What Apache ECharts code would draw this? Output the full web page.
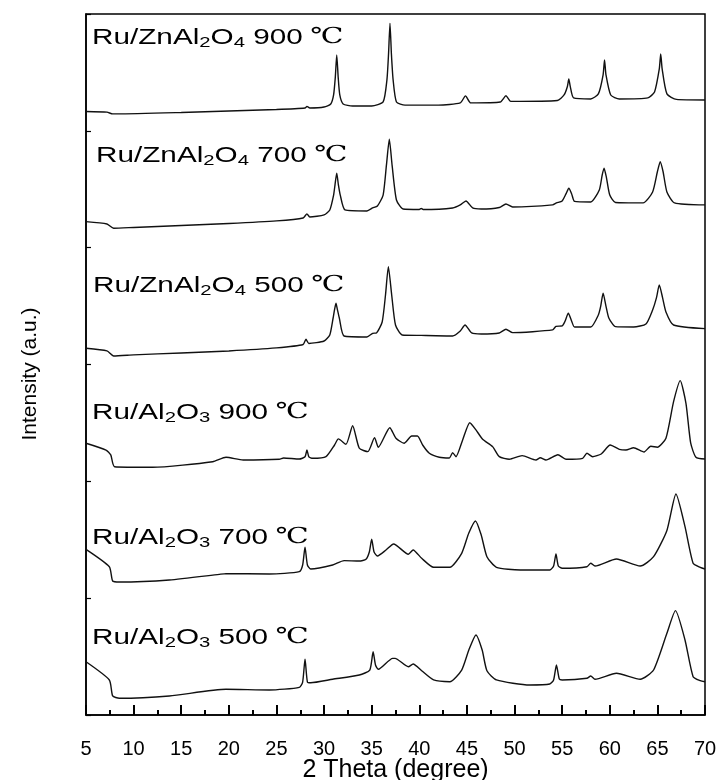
<!DOCTYPE html>
<html>
<head>
<meta charset="utf-8">
<script src="https://cdn.jsdelivr.net/npm/echarts@6/dist/echarts.min.js"></script>
<style>
  html, body { margin: 0; padding: 0; background: #fff; }
  #chart { width: 721px; height: 780px; }
</style>
</head>
<body>
<div id="chart"></div>
<script>
// 2-theta tick marks along the bottom axis (degrees)
const X_TICKS = [5, 10, 15, 20, 25, 30, 35, 40, 45, 50, 55, 60, 65, 70];
// stacked intensity scale (a.u.), ticks only, no labels
const Y_TICKS = [0, 100, 200, 300, 400, 500, 600];

// XRD patterns as [2theta, intensity] pairs, already stacked
const zn900 = [
  [5.0,516.6],[7.2,516.0],[7.8,514.5],[8.3,514.5],[15,515.7],[20,517.0],[25,518.3],[28.0,519.6],[28.2,520.9],[28.5,519.6],
  [30.0,520.4],[30.7,523.0],[31.0,530.7],[31.18,546],[31.33,565.0],[31.48,546],[31.65,530.7],[32.0,523.0],[33.0,521.3],
  [35.0,521.3],[36.2,524.7],[36.6,543.6],[36.77,566],[36.92,592.0],[37.07,566],[37.25,543.6],[37.6,524.7],[38.5,522.0],
  [42.0,522.0],[44.3,523.9],[44.85,529.9],[45.4,523.9],[48.5,524.7],[49.1,530.0],[49.6,525.2],[54.5,526.0],[55.2,530.7],
  [55.55,538],[55.7,544.4],[55.85,538],[56.2,528.2],[58.0,527.3],[58.8,531.6],[59.3,548],[59.45,560.7],[59.6,548],
  [60.1,530.7],[61.0,527.3],[64.0,528.2],[64.7,533.3],[65.2,553],[65.35,565.8],[65.5,553],[66.0,531.6],[67.0,526.9],[70.0,526.4]
];
const zn700 = [
  [5.0,422.3],[7.2,420.3],[7.9,416.6],[10,417.3],[15,419.0],[20,420.7],[25,422.9],[27.8,425.4],[28.2,428.9],[28.5,426.3],
  [30.0,428.0],[30.6,432.3],[31.0,445.0],[31.15,454],[31.33,463.7],[31.5,454],[31.7,445.0],[32.2,432.3],[34.5,431.4],
  [35.1,434.0],[35.6,435.7],[36.2,445.0],[36.55,470.8],[36.85,492.8],[37.15,470],[37.6,440.8],[38.3,433.1],[40.0,432.7],
  [40.2,433.6],[40.4,432.7],[43.5,434.0],[44.3,436.6],[44.9,440.0],[45.6,434.0],[46.5,433.1],[48.4,434.4],[49.1,437.4],
  [49.8,434.8],[54.0,436.6],[54.4,438.3],[55.0,440.0],[55.4,446],[55.7,450.8],[56.0,446],[56.3,439.6],[58.0,439.1],
  [58.9,449.4],[59.2,462],[59.4,468.0],[59.65,460],[60.0,445.0],[60.6,438.7],[63.5,438.3],[64.5,447.7],[65.0,465],
  [65.3,473.6],[65.6,465],[66.0,447.7],[66.8,438.3],[70.0,436.6]
];
const zn500 = [
  [5.0,313.9],[7.2,311.6],[7.9,307.3],[10,308.2],[15,309.9],[20,311.6],[25,314.2],[27.8,317.1],[28.1,321.6],[28.4,318.0],
  [30.0,320.1],[30.6,325.3],[30.95,339.8],[31.1,347],[31.25,352.4],[31.4,347],[31.6,339.8],[32.1,324.4],[34.5,323.6],
  [35.1,326.7],[35.5,327.0],[36.1,336.4],[36.45,359.5],[36.75,383.7],[37.1,359.5],[37.5,333.8],[38.2,325.3],[40.2,324.9],
  [43.5,324.4],[44.3,328.7],[44.8,333.8],[45.5,327.0],[46.5,326.1],[48.4,327.0],[49.1,330.2],[49.8,327.3],[54.0,329.6],
  [54.35,332.7],[55.0,333.0],[55.3,337],[55.65,343.9],[56.0,337],[56.3,332.1],[58.0,332.1],[58.8,342.4],[59.05,350],
  [59.3,361.0],[59.6,350],[59.9,339.8],[60.6,332.4],[62.5,332.1],[63.8,334.7],[64.5,346.7],[64.9,357],[65.2,368.1],
  [65.55,357],[65.9,345.0],[66.7,333.8],[70.0,330.7]
];
const al900 = [
  [5.0,232.6],[7.1,226.8],[7.6,222.6],[8.0,212.5],[12.0,212.0],[18.3,216.8],[19.7,220.6],[21.5,218.3],[25.3,218.9],
  [25.75,220.0],[27.4,219.1],[28.0,221],[28.2,226.8],[28.4,221],[28.8,219.7],[30.2,221.1],[31.1,231.1],[31.5,236.3],
  [32.3,231.7],[33.0,247.6],[33.7,228.3],[34.6,225.4],[35.3,237.4],[35.7,229.2],[36.9,245.9],[37.55,236.9],[38.4,232.6],
  [39.2,238.8],[39.8,238.8],[40.35,231.1],[41.05,224.0],[42.1,220.6],[43.15,220.0],[43.5,224.5],[43.85,221.1],[44.55,235.4],
  [45.3,250.2],[45.95,244.0],[46.65,236.0],[47.7,229.7],[48.4,221.1],[49.45,218.9],[50.8,222.0],[52.25,218.3],[52.7,220.2],
  [53.3,218.3],[54.55,222.8],[55.4,218.9],[57.15,219.7],[57.6,224.0],[58.2,221.1],[59.1,223.4],[60.05,231.1],[61.0,227.4],
  [61.7,226.8],[62.5,228.8],[63.6,225.1],[64.3,230.0],[65.0,229.2],[65.9,236.9],[66.7,268.2],[67.4,286.2],[68.0,266.8],
  [68.5,232.6],[69.05,220.6],[70.0,219.1]
];
const al700 = [
  [5.0,141.8],[7.45,126.9],[7.8,114.7],[8.5,113.8],[13.75,115.6],[19.0,120.4],[19.7,121.0],[24.25,120.7],[27.4,122.7],
  [27.75,128.4],[28.0,143.6],[28.25,128.4],[28.6,125.0],[30.9,128.4],[32.1,132.1],[33.7,131.8],[34.4,133.3],[34.75,139.5],
  [35.0,150.4],[35.25,139.5],[35.6,136.1],[36.5,141.2],[37.3,146.4],[38.85,137.6],[39.35,141.2],[40.25,134.1],[41.5,126.4],
  [43.2,126.4],[44.45,138.4],[45.2,155.8],[45.9,166.1],[46.5,154.1],[47.1,135.5],[48.1,126.4],[50.6,124.1],[53.7,124.1],
  [54.1,127.5],[54.35,137.8],[54.6,127.5],[55.0,125.6],[57.6,126.9],[58.0,129.9],[58.45,127.5],[60.7,133.5],[63.2,127.5],
  [64.6,135.5],[66.0,158.0],[66.95,189.2],[67.9,161.2],[68.75,129.9],[69.5,126.4],[70.0,125.0]
];
const al500 = [
  [5.0,45.6],[7.45,30.0],[7.8,16.3],[8.5,14.3],[13.75,16.3],[19.7,22.0],[24.25,21.4],[27.4,23.7],[27.75,28.2],[28.0,47.7],
  [28.25,28.2],[28.6,27.6],[30.9,30.6],[33.7,34.2],[34.8,38.5],[35.15,54.2],[35.4,42.8],[35.7,39.1],[37.2,48.5],[37.45,48.5],
  [38.85,41.3],[39.35,43.7],[40.25,37.9],[41.5,30.0],[43.2,28.5],[44.45,38.5],[45.2,55.6],[45.95,68.5],[46.6,55.6],
  [47.1,37.9],[48.1,30.0],[51.6,25.7],[53.7,26.5],[54.1,30.0],[54.4,42.8],[54.7,30.8],[55.0,30.0],[57.6,31.4],[58.0,33.4],
  [58.45,30.6],[60.7,35.7],[63.2,30.6],[64.6,38.5],[66.0,69.9],[66.9,89.3],[67.9,64.2],[68.75,32.8],[69.5,29.4],[70.0,28.5]
];

const patterns = [zn900, zn700, zn500, al900, al700, al500];

// sample captions with sub-scripted formulas (rich text)
const captions = [
  '{a|Ru/ZnAl}{s|2}{a|O}{s|4}{a| 900}{c| ℃}',
  '{a|Ru/ZnAl}{s|2}{a|O}{s|4}{a| 700}{c| ℃}',
  '{a|Ru/ZnAl}{s|2}{a|O}{s|4}{a| 500}{c| ℃}',
  '{a|Ru/Al}{s|2}{a|O}{s|3}{a| 900}{c| ℃}',
  '{a|Ru/Al}{s|2}{a|O}{s|3}{a| 700}{c| ℃}',
  '{a|Ru/Al}{s|2}{a|O}{s|3}{a| 500}{c| ℃}'
];
const captionAt = [[92, 24.7], [96, 142.7], [93, 272.7], [92, 399.7], [92, 524.7], [92, 624.7]];

const FONT = "'Liberation Sans', Arial, 'Noto Sans CJK SC', sans-serif";
const SERIF = "'Liberation Serif', 'DejaVu Serif', 'Noto Sans CJK SC', serif";
const richStyle = {
  a: { fontSize: 22, lineHeight: 26, fontFamily: FONT, fill: '#000' },
  s: { fontSize: 15, lineHeight: 8, verticalAlign: 'bottom', fontFamily: FONT, fill: '#000' },
  c: { fontSize: 22, lineHeight: 26, fontFamily: SERIF, fill: '#000' }
};

const chart = echarts.init(document.getElementById('chart'));

chart.setOption({
  animation: false,
  backgroundColor: '#fff',
  grid: {
    left: 86, right: 16, top: 14, bottom: 65,
    outerBoundsMode: 'none',
    containLabel: false,
    show: true, borderColor: '#000', borderWidth: 1.5, backgroundColor: 'transparent'
  },
  xAxis: {
    type: 'value',
    min: X_TICKS[0],
    max: X_TICKS[X_TICKS.length - 1],
    interval: X_TICKS[1] - X_TICKS[0],
    name: '2 Theta (degree)',
    nameLocation: 'middle',
    nameMoveOverlap: false,
    nameGap: 43,
    nameTextStyle: { fontSize: 25, fontFamily: FONT, color: '#000' },
    axisLine: { show: true, onZero: false, lineStyle: { color: '#000', width: 1.5 } },
    axisTick: { show: true, inside: true, length: 10, lineStyle: { color: '#000', width: 2, opacity: 1 } },
    minorTick: { show: true, splitNumber: 2, length: 5, lineStyle: { color: '#000', width: 2, opacity: 1 } },
    axisLabel: { fontSize: 20, fontFamily: FONT, color: '#000', margin: 24 },
    splitLine: { show: false },
    minorSplitLine: { show: false },
    zlevel: 1
  },
  yAxis: {
    type: 'value',
    min: Y_TICKS[0],
    max: Y_TICKS[Y_TICKS.length - 1],
    interval: Y_TICKS[1] - Y_TICKS[0],
    name: 'Intensity (a.u.)',
    nameLocation: 'middle',
    nameMoveOverlap: false,
    nameGap: 45,
    nameTextStyle: { fontSize: 21, fontFamily: FONT, color: '#000', padding: [0, 19, 0, 0] },
    axisLine: { show: true, onZero: false, lineStyle: { color: '#000', width: 1.5 } },
    axisTick: { show: true, inside: true, length: 5, lineStyle: { color: '#000', width: 1.2 } },
    axisLabel: { show: false },
    splitLine: { show: false }
  },
  series: patterns.map((d) => ({
    type: 'line',
    data: d,
    symbol: 'none',
    smooth: 0.2,
    lineStyle: { color: '#111', width: 1.4 },
    silent: true
  })),
  graphic: captions.map((text, i) => ({
    type: 'text',
    x: captionAt[i][0],
    y: captionAt[i][1],
    scaleX: 1.35,
    style: { text: text, rich: richStyle, align: 'left', verticalAlign: 'top', fill: '#000' }
  }))
});
</script>
</body>
</html>
